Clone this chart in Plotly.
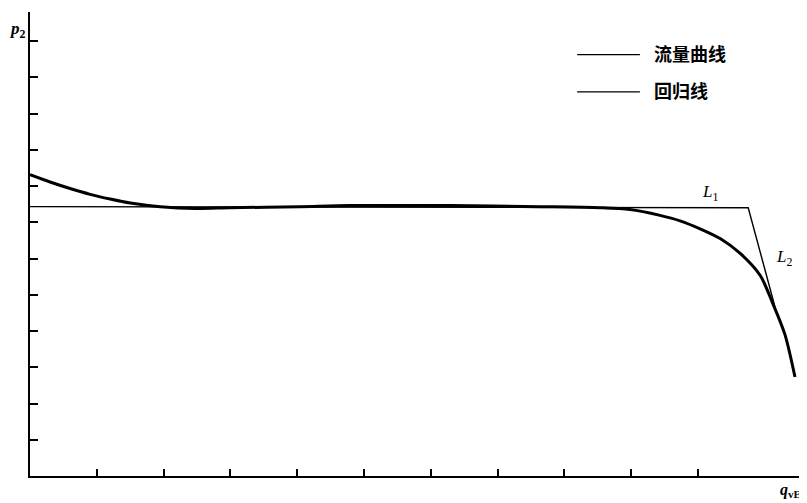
import plotly.graph_objects as go

# Flow curve (流量曲线)
flow_x = [0.0, 0.30, 0.60, 0.90, 1.20, 1.50, 1.95, 2.47, 2.99, 4.04, 4.79, 6.29,
          7.63, 8.53, 8.98, 9.43, 9.73, 10.03, 10.33, 10.63, 10.93, 11.12, 11.30, 11.45]
flow_y = [8.31, 8.11, 7.93, 7.77, 7.64, 7.53, 7.43, 7.38, 7.40, 7.43, 7.46, 7.46,
          7.43, 7.40, 7.35, 7.19, 7.04, 6.82, 6.55, 6.14, 5.53, 4.75, 3.90, 2.73]

# Regression line (回归线): L1 horizontal, L2 sloped
reg_x = [0.0, 10.75, 11.15]
reg_y = [7.43, 7.40, 4.67]

x_ticks = [1, 2, 3, 4, 5, 6, 7, 8, 9, 10]
y_ticks = [1, 2, 3, 4, 5, 6, 7, 8, 9, 10, 11, 12]
legend_names = ["流量曲线", "回归线"]

fig = go.Figure()
fig.add_trace(go.Scatter(x=reg_x, y=reg_y, mode="lines",
                         line=dict(color="black", width=1.4), name=legend_names[1],
                         showlegend=False))
fig.add_trace(go.Scatter(x=flow_x, y=flow_y, mode="lines", line_shape="spline",
                         line=dict(color="black", width=3, smoothing=0.8),
                         name=legend_names[0], showlegend=False))

cjk = "Noto Sans CJK SC"
# manual legend
for name, yy in zip(legend_names, [0.908, 0.828]):
    fig.add_shape(type="line", xref="paper", yref="paper",
                  x0=0.706, x1=0.787, y0=yy, y1=yy,
                  line=dict(color="black", width=1.2))
    fig.add_annotation(xref="paper", yref="paper", x=0.802, y=yy + 0.004,
                       text="<b>%s</b>" % name,
                       showarrow=False, xanchor="left", yanchor="middle",
                       font=dict(family=cjk, size=18, color="black"))

fig.add_annotation(x=10.18, y=7.82, text="<i>L</i><sub>1</sub>", showarrow=False,
                   font=dict(family="Liberation Serif", size=17, color="black"))
fig.add_annotation(x=11.29, y=6.02, text="<i>L</i><sub>2</sub>", showarrow=False,
                   font=dict(family="Liberation Serif", size=17, color="black"))
fig.add_annotation(xref="paper", yref="paper", x=-0.003, y=0.962,
                   text="<b><i>p</i></b><sub><b>2</b></sub>", showarrow=False,
                   xanchor="right", yanchor="middle",
                   font=dict(family="Liberation Serif", size=17, color="black"))
fig.add_annotation(xref="paper", yref="paper", x=0.998, y=-0.006,
                   text="<b><i>q</i></b><sub><b>vE</b></sub>", showarrow=False,
                   xanchor="right", yanchor="top",
                   font=dict(family="Liberation Serif", size=16, color="black"))

fig.update_xaxes(range=[0, 11.6], showgrid=False, zeroline=False, showline=True,
                 linecolor="black", linewidth=2, ticks="inside", ticklen=7,
                 tickwidth=1.5, tickcolor="black", tickvals=x_ticks,
                 showticklabels=False)
fig.update_yaxes(range=[0, 12.8], showgrid=False, zeroline=False, showline=True,
                 linecolor="black", linewidth=2, ticks="inside", ticklen=8,
                 tickwidth=1.5, tickcolor="black", tickvals=y_ticks,
                 showticklabels=False)

# page body adds an 8px offset, so the figure is sized to fit inside the window
fig.update_layout(width=799, height=495, plot_bgcolor="white", paper_bgcolor="white",
                  margin=dict(l=22, r=2, t=4, b=27), showlegend=False)

fig.write_html("out.html")
